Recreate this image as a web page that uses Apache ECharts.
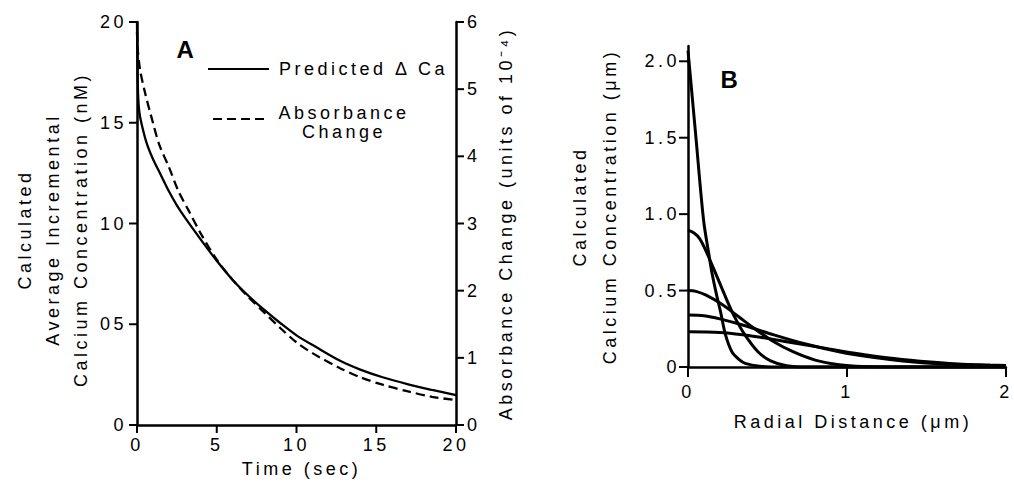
<!DOCTYPE html>
<html><head><meta charset="utf-8">
<script src="https://cdn.jsdelivr.net/npm/echarts@6/dist/echarts.min.js"></script>
<style>
html,body{margin:0;padding:0;background:#fff;}
#chart{width:1014px;height:483px;}
#chart text{letter-spacing:3.5px;}
</style></head><body><div id="chart"></div>
<script>
// Panel A: time course
const timePredicted = [0, 0.03, 0.08, 0.15, 0.3, 0.6, 1, 1.5, 2, 2.5, 3, 4, 5, 6, 7, 8, 9, 10, 11.2, 12.7, 14, 15.4, 17, 18.5, 20];
const predictedCa = [20, 17.6, 16.2, 15.5, 14.9, 14.0, 13.2, 12.4, 11.6, 10.9, 10.3, 9.2, 8.15, 7.2, 6.4, 5.7, 5.05, 4.45, 3.88, 3.2, 2.75, 2.37, 2.02, 1.74, 1.48];
const timeAbsorbance = [0, 0.05, 0.2, 0.5, 1, 1.4, 2, 2.6, 3.2, 4, 5, 6, 7, 8, 9, 10, 11, 12.7, 14, 15.4, 17, 18.5, 20];
const absorbanceChange = [5.85, 5.58, 5.28, 4.95, 4.5, 4.17, 3.84, 3.48, 3.21, 2.85, 2.46, 2.16, 1.9, 1.67, 1.44, 1.23, 1.07, 0.85, 0.71, 0.6, 0.5, 0.42, 0.37];
const timeTicks = [0, 5, 10, 15, 20];
const caTickValues = [0, 5, 10, 15, 20];
const caTickLabels = ['0', '05', '10', '15', '20'];
const absTickValues = [0, 1, 2, 3, 4, 5, 6];
const absTickLabels = ['0', '1', '2', '3', '4', '5', '6'];

// Panel B: radial profiles
const profile1Distance = [0, 0.05, 0.098, 0.134, 0.15, 0.18, 0.205, 0.236, 0.276, 0.32, 0.36, 0.45, 0.6, 2];
const profile1Conc = [2.07, 1.5, 0.96, 0.72, 0.62, 0.47, 0.36, 0.21, 0.1, 0.05, 0.024, 0.005, 0, 0];
const profile2Distance = [0, 0.04, 0.073, 0.104, 0.134, 0.195, 0.256, 0.297, 0.358, 0.44, 0.52, 0.62, 0.75, 2];
const profile2Conc = [0.895, 0.875, 0.84, 0.78, 0.71, 0.56, 0.41, 0.32, 0.21, 0.1, 0.04, 0.008, 0, 0];
const profile3Distance = [0, 0.05, 0.114, 0.213, 0.317, 0.42, 0.54, 0.66, 0.8, 0.95, 1.1, 1.4, 2];
const profile3Conc = [0.5, 0.495, 0.47, 0.41, 0.33, 0.25, 0.165, 0.1, 0.045, 0.015, 0.004, 0, 0];
const profile4Distance = [0, 0.1, 0.2, 0.36, 0.54, 0.74, 0.95, 1.15, 1.35, 1.6, 1.8, 2];
const profile4Conc = [0.34, 0.335, 0.315, 0.27, 0.21, 0.15, 0.1, 0.065, 0.04, 0.02, 0.012, 0.006];
const profile5Distance = [0, 0.2, 0.42, 0.62, 0.85, 1.05, 1.25, 1.46, 1.7, 1.9, 2];
const profile5Conc = [0.23, 0.225, 0.2, 0.165, 0.125, 0.09, 0.06, 0.038, 0.02, 0.013, 0.01];
const radialTickValues = [0, 1, 2];
const radialTickLabels = ['0', '1', '2'];
const concTickValues = [0, 0.5, 1, 1.5, 2];
const concTickLabels = ['0', '0.5', '1.0', '1.5', '2.0'];

const FONT = 'Liberation Sans';
const zip = (xs, ys) => xs.map((x, i) => [x, ys[i]]);
const axisLine = () => ({ show: true, lineStyle: { color: '#000', width: 2.5 } });
const noTick = () => ({ show: false });
const lblStyle = { color: '#000', fontSize: 18, fontFamily: FONT };
const nameStyle = { color: '#000', fontSize: 18, fontFamily: FONT };

const profiles = [
  zip(profile1Distance, profile1Conc),
  zip(profile2Distance, profile2Conc),
  zip(profile3Distance, profile3Conc),
  zip(profile4Distance, profile4Conc),
  zip(profile5Distance, profile5Conc)
];

// tick marks drawn through the axes' own scales (custom series)
function tickSeries(xAxisIndex, yAxisIndex, points, dx, dy) {
  return {
    type: 'custom', xAxisIndex, yAxisIndex, clip: false, silent: true, z: 5,
    data: points,
    renderItem: (params, api) => {
      const p = api.coord([api.value(0), api.value(1)]);
      return { type: 'line', shape: { x1: p[0], y1: p[1], x2: p[0] + dx, y2: p[1] + dy },
        style: { stroke: '#000', lineWidth: 2 } };
    }
  };
}

const chart = echarts.init(document.getElementById('chart'), null, { renderer: 'svg' });
chart.setOption({
  animation: false,
  backgroundColor: '#fff',
  textStyle: { fontFamily: FONT },
  grid: [
    { left: 137, top: 22, width: 319, height: 403 },
    { left: 688, top: 46, width: 328, height: 321 }
  ],
  xAxis: [
    {
      gridIndex: 0, type: 'value', min: 0, max: 20, interval: 5,
      axisLine: axisLine(), axisTick: noTick(), splitLine: { show: false },
      axisLabel: { ...lblStyle, margin: 11, formatter: v => String(timeTicks[timeTicks.indexOf(v)]) },
      name: 'Time (sec)', nameLocation: 'middle', nameGap: 35,
      nameTextStyle: { ...nameStyle, padding: [0, 0, 0, 10] }
    },
    {
      gridIndex: 1, type: 'value', min: 0, max: 2, interval: 1,
      axisLine: axisLine(), axisTick: noTick(), splitLine: { show: false },
      axisLabel: { ...lblStyle, margin: 16, formatter: v => radialTickLabels[radialTickValues.indexOf(v)] },
      name: 'Radial Distance (μm)', nameLocation: 'middle', nameGap: 46,
      nameTextStyle: { ...nameStyle, padding: [0, 0, 0, 12] }
    }
  ],
  yAxis: [
    {
      gridIndex: 0, type: 'value', min: 0, max: 20, interval: 5,
      axisLine: axisLine(), axisTick: noTick(), splitLine: { show: false },
      axisLabel: { ...lblStyle, margin: 10, formatter: v => caTickLabels[caTickValues.indexOf(v)] },
      name: 'Calculated\nAverage Incremental\nCalcium Concentration (nM)',
      nameLocation: 'middle', nameRotate: 90, nameGap: 42,
      nameTextStyle: { ...nameStyle, lineHeight: 28, padding: [0, 12, 0, 0] }
    },
    {
      gridIndex: 0, type: 'value', min: 0, max: 6, interval: 1, position: 'right',
      axisLine: axisLine(), axisTick: noTick(), splitLine: { show: false },
      axisLabel: { ...lblStyle, margin: 11, formatter: v => absTickLabels[absTickValues.indexOf(v)] },
      name: 'Absorbance Change (units of 10⁻⁴)',
      nameLocation: 'middle', nameRotate: 90, nameGap: 41,
      nameTextStyle: { ...nameStyle }
    },
    {
      gridIndex: 1, type: 'value', min: 0, max: 2.1, interval: 0.5,
      axisLine: axisLine(), splitLine: { show: false }, axisTick: noTick(),
      axisLabel: { ...lblStyle, margin: 8, customValues: concTickValues,
        formatter: v => concTickLabels[concTickValues.indexOf(v)] },
      name: 'Calculated\nCalcium Concentration (μm)',
      nameLocation: 'middle', nameRotate: 90, nameGap: 63,
      nameTextStyle: { ...nameStyle, lineHeight: 30 }
    }
  ],
  legend: [
    {
      data: ['Predicted Δ Ca'], left: 207, top: 60, padding: 0, selectedMode: false,
      itemWidth: 61, itemHeight: 14, itemStyle: { opacity: 0 },
      textStyle: { color: '#000', fontSize: 18, fontFamily: FONT, padding: [0, 0, 0, 5] }
    },
    {
      data: ['Absorbance Change'], left: 212, top: 104, padding: 0, selectedMode: false,
      itemWidth: 56, itemHeight: 14, itemStyle: { opacity: 0 },
      formatter: () => '{c|Absorbance}\n{c|Change}',
      textStyle: { color: '#000', fontSize: 18, fontFamily: FONT, padding: [7, 0, 0, 22],
        rich: { c: { align: 'center', fontSize: 18, lineHeight: 19, color: '#000', fontFamily: FONT } } }
    }
  ],
  graphic: [
    { type: 'text', x: 187, y: 49, style: { text: 'A', fontSize: 24, fontWeight: 'bold', fontFamily: FONT, fill: '#000', textAlign: 'center', textVerticalAlign: 'middle' } },
    { type: 'text', x: 731, y: 79, style: { text: 'B', fontSize: 24, fontWeight: 'bold', fontFamily: FONT, fill: '#000', textAlign: 'center', textVerticalAlign: 'middle' } }
  ],
  series: [
    {
      name: 'Predicted Δ Ca', type: 'line', xAxisIndex: 0, yAxisIndex: 0,
      data: zip(timePredicted, predictedCa), smooth: 0.3,
      symbol: 'none', showSymbol: false,
      lineStyle: { color: '#000', width: 2.3 }, itemStyle: { color: '#000' }
    },
    {
      name: 'Absorbance Change', type: 'line', xAxisIndex: 0, yAxisIndex: 1,
      data: zip(timeAbsorbance, absorbanceChange), smooth: 0.3,
      symbol: 'none', showSymbol: false,
      lineStyle: { color: '#000', width: 2.3, type: [9, 5] }, itemStyle: { color: '#000' }
    },
    ...profiles.map((p, i) => ({
      name: 'Profile ' + (i + 1), type: 'line', xAxisIndex: 1, yAxisIndex: 2,
      data: p, smooth: 0.3, symbol: 'none', showSymbol: false,
      lineStyle: { color: '#000', width: 3 }, itemStyle: { color: '#000' }
    })),
    tickSeries(0, 0, timeTicks.map(v => [v, 0]), 0, 8),
    tickSeries(0, 0, caTickValues.map(v => [0, v]), -8, 0),
    tickSeries(0, 1, absTickValues.map(v => [20, v]), 8, 0),
    tickSeries(1, 2, radialTickValues.map(v => [v, 0]), 0, 10),
    tickSeries(1, 2, concTickValues.map(v => [0, v]), -9, 0)
  ]
});
</script></body></html>
